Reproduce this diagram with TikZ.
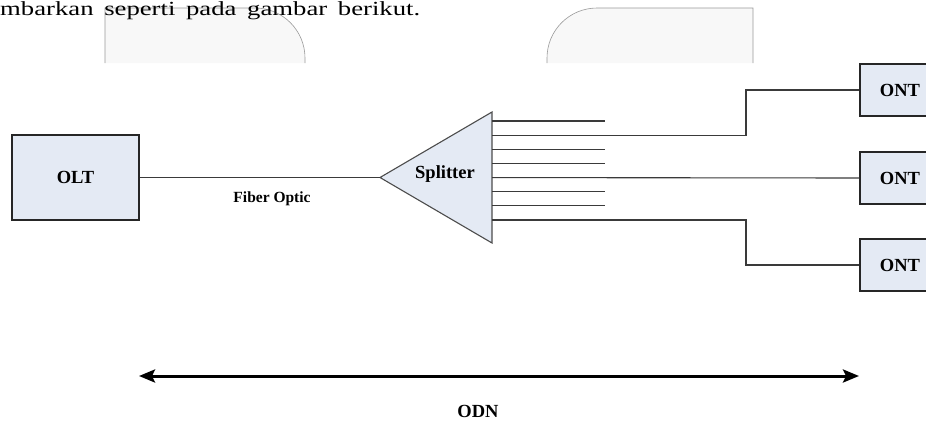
\documentclass[tikz,border=0pt]{standalone}
\usepackage{fontspec}
\setmainfont{Liberation Serif}
\usetikzlibrary{
    calc,
    arrows.meta
}
\definecolor{boxfill}{HTML}{E4EAF4}
\definecolor{wirecol}{HTML}{3A3A3A}
\definecolor{pagefill}{HTML}{F8F8F8}
\tikzset{
    lbl/.style={inner sep=0pt, font=\bfseries\fontsize{18.5}{21}\selectfont},
    box/.style={lbl, draw=black!85, fill=boxfill, line width=1.2pt},
    splitbox/.style={draw=black!70, fill=boxfill, line width=1.1pt},
    wire/.style={draw=wirecol, line width=1.1pt},
    pagebox/.style={draw=black!40, fill=pagefill, line width=0.6pt},
    span/.style={line width=3pt,
        {Stealth[length=16pt,width=13pt,inset=3pt]}-{Stealth[length=16pt,width=13pt,inset=3pt]}}
}

\begin{document}
\begin{tikzpicture}[x=1pt,y=1pt]
    \useasboundingbox (0,0) rectangle (926,-423);
    % page behind the figure
    \filldraw[pagebox] (105,-63) -- (105,-8) -- (255,-8)
        arc[start angle=90, end angle=0, radius=50pt] -- (305,-63);
    \filldraw[pagebox] (547,-63) -- (547,-58)
        arc[start angle=180, end angle=90, radius=50pt] -- (753,-8) -- (753,-63);
    \node[anchor=base west, inner sep=0pt, font=\fontsize{20}{24}\selectfont]
        (caption) at (0,-15)
        {\resizebox{420pt}{\height}{\spaceskip=8pt\relax mbarkan seperti pada gambar berikut.}};

    % head and end units
    \node[box, minimum width=127pt, minimum height=85pt] (olt) at (75.5,-177.5) {OLT};
    \node[box, minimum width=80pt, minimum height=52pt] (ont1) at (900,-90) {ONT};
    \node[box, minimum width=80pt, minimum height=52pt] (ont2) at (900,-178) {ONT};
    \node[box, minimum width=80pt, minimum height=52pt] (ont3) at (900,-265) {ONT};

    % splitter
    \coordinate (tip) at (380,-177.5);
    \filldraw[splitbox] (tip) -- (492,-112) -- (492,-243) -- cycle;
    \node[lbl] (split) at (445,-174) {Splitter};

    \draw[wire] (olt.east) -- (tip);
    \node[lbl, font=\bfseries\fontsize{15.5}{18}\selectfont] (fiber) at (272,-199) {Fiber Optic};

    % splitter outputs
    \foreach \i in {0,...,7}
        \coordinate (out\i) at (492,{-121-14.14*\i});
    \foreach \i in {0,2,3,5,6}
        \draw[wire] (out\i) -- ++(113,0);
    \draw[wire] (out1) -- ++(254,0) |- (ont1.west);
    \draw[wire] (out4) -- (ont2.west);
    \draw[wire] (out7) -- ++(254,0) |- (ont3.west);

    % distribution network span
    \coordinate (odnL) at (139,-376);
    \coordinate (odnR) at (859,-376);
    \draw[span] (odnL) -- (odnR);
    \node[lbl] (odn) at (478,-411) {ODN};
\end{tikzpicture}
\end{document}
